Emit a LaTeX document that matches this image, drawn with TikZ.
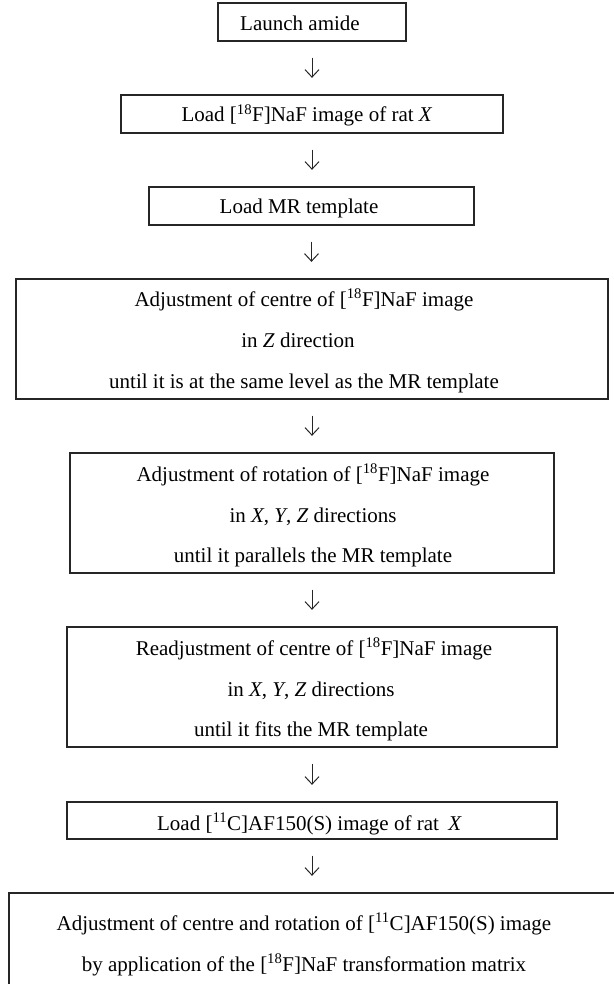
\documentclass[tikz,border=0pt]{standalone}
\usepackage{fontspec}
\setmainfont{Liberation Serif}
\usetikzlibrary{arrows.meta}
\tikzset{
  box/.style={draw=black!85, line width=1.3pt, rectangle, inner sep=0pt, minimum height=38pt},
  txt/.style={anchor=base, inner sep=0pt, font=\fontsize{21}{25}\selectfont, text=black},
  arr/.style={draw=black!85, line width=1pt, -{Straight Barb[length=7.5pt,width=14pt]}, shorten <=16pt, shorten >=16.5pt}
}
\newcommand{\sfe}{[\textsuperscript{18}F]NaF}
\newcommand{\sce}{[\textsuperscript{11}C]AF150(S)}
\begin{document}
\begin{tikzpicture}[x=1pt,y=-1pt]
\useasboundingbox (0,0) rectangle (613,984);
% boxes
\node[box, minimum width=188pt] (b1) at (312,22) {};
\node[box, minimum width=382pt] (b2) at (312,114) {};
\node[box, minimum width=325pt] (b3) at (311.5,206) {};
\node[box, minimum width=592pt, minimum height=120pt] (b4) at (312,339) {};
\node[box, minimum width=484pt, minimum height=120pt] (b5) at (312,513) {};
\node[box, minimum width=490pt, minimum height=120pt] (b6) at (312,687) {};
\node[box, minimum width=490pt, minimum height=37pt] (b7) at (312,820.5) {};
\node[box, minimum width=611pt, minimum height=120pt] (b8) at (314.5,953) {};
% texts
\node[txt] (t1) at (300,30.5) {Launch amide};
\node[txt] (t2) at (307,122) {Load \sfe{} image of rat \textit{X}};
\node[txt] (t3) at (299,213.5) {Load MR template};
\node[txt] (t4a) at (304,306) {Adjustment of centre of \sfe{} image};
\node[txt] (t4b) at (298,347) {in \textit{Z} direction};
\node[txt] (t4c) at (304,388) {until it is at the same level as the MR template};
\node[txt] (t5a) at (313,481) {Adjustment of rotation of \sfe{} image};
\node[txt] (t5b) at (313,522) {in \textit{X}, \textit{Y}, \textit{Z} directions};
\node[txt] (t5c) at (313,562) {until it parallels the MR template};
\node[txt] (t6a) at (314,655) {Readjustment of centre of \sfe{} image};
\node[txt] (t6b) at (311,696) {in \textit{X}, \textit{Y}, \textit{Z} directions};
\node[txt] (t6c) at (311,736) {until it fits the MR template};
\node[txt] (t7) at (309.5,830) {Load \sce{} image of rat\hspace{0.2em} \textit{X}};
\node[txt] (t8a) at (304,930) {Adjustment of centre and rotation of \sce{} image};
\node[txt] (t8b) at (304,971.5) {by application of the \sfe{} transformation matrix};
% connectors
\draw[arr] (b1.south) -- (b1.south |- b2.north);
\draw[arr] (b2.south) -- (b2.south |- b3.north);
\draw[arr] (b3.south) -- (b3.south |- b4.north);
\draw[arr] (b4.south) -- (b4.south |- b5.north);
\draw[arr] (b5.south) -- (b5.south |- b6.north);
\draw[arr] (b6.south) -- (b6.south |- b7.north);
\draw[arr] (b7.south) -- (b7.south |- b8.north);
\end{tikzpicture}
\end{document}
